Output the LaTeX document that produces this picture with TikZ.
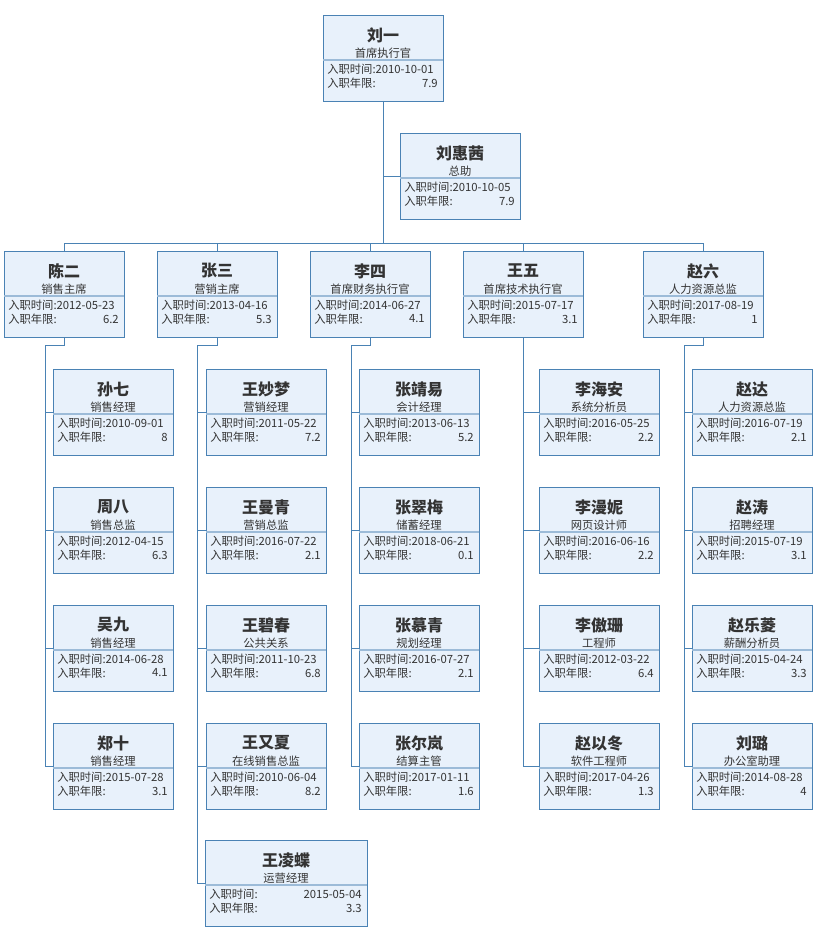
\documentclass[tikz,border=0pt]{standalone}
\usepackage{fontspec}
\setmainfont{Noto Sans CJK SC}
\usetikzlibrary{positioning}

\definecolor{cardfill}{HTML}{E8F1FB}
\definecolor{cardline}{HTML}{4A82B4}
\definecolor{cardsepcol}{HTML}{9CBBD8}
\definecolor{linkcol}{HTML}{4A82B4}
\definecolor{cardtext}{HTML}{333333}

% 卡片: [宽度]{节点名}{左上角}{姓名}{职位}{入职时间}{入职年限}
\newcommand{\orgcard}[7][120]{%
  \node[card, minimum width=#1pt, anchor=north west] (#2) at #3 {};
  \node[cardname] (#2-n) at ([yshift=-20pt]#2.north) {#4};
  \node[cardrole] (#2-r) at ([yshift=-38pt]#2.north) {#5};
  \draw[sepline] ([yshift=-45pt]#2.north west) -- ([yshift=-45pt]#2.north east);
  \node[cardinfo, anchor=west] (#2-d) at ([xshift=4pt,yshift=-54pt]#2.north west) {入职时间:#6};
  \node[cardinfo, anchor=west] (#2-l) at ([xshift=4pt,yshift=-68pt]#2.north west) {入职年限:};
  \node[cardinfo, anchor=east] (#2-y) at ([xshift=-5pt,yshift=-68pt]#2.north east) {#7};
}

\begin{document}
\begin{tikzpicture}[x=1pt,y=-1pt,semithick]
            % 设置样式
            \tikzstyle{card}=[draw=cardline,fill=cardfill,line width=0.9pt,minimum height=86pt,inner sep=0pt,outer sep=0pt]
            \tikzstyle{cardname}=[text=cardtext,inner sep=0pt,font=\bfseries\fontsize{16}{16}\selectfont]
            \tikzstyle{cardrole}=[text=cardtext,inner sep=0pt,font=\fontsize{11.3}{12}\selectfont]
            \tikzstyle{cardinfo}=[text=cardtext,inner sep=0pt,font=\fontsize{11.3}{12}\selectfont]
            \tikzstyle{sepline}=[draw=cardsepcol,line width=1.4pt]
            \tikzstyle{link}=[draw=linkcol,line width=0.9pt]

            \useasboundingbox (0,0) rectangle (816,933);

            % 高层
            \orgcard{liuyi}{(323,15)}{刘一}{首席执行官}{2010-10-01}{7.9}
            \orgcard{liuhuiqian}{(400,133)}{刘惠茜}{总助}{2010-10-05}{7.9}

            % 主席与总监
            \orgcard{chener}{(4,251)}{陈二}{销售主席}{2012-05-23}{6.2}
            \orgcard{zhangsan}{(157,251)}{张三}{营销主席}{2013-04-16}{5.3}
            \orgcard{lisi}{(310,251)}{李四}{首席财务执行官}{2014-06-27}{4.1}
            \orgcard{wangwu}{(463,251)}{王五}{首席技术执行官}{2015-07-17}{3.1}
            \orgcard{zhaoliu}{(643,251)}{赵六}{人力资源总监}{2017-08-19}{1}

            % 陈二的下属
            \orgcard{sunqi}{(53,369)}{孙七}{销售经理}{2010-09-01}{8}
            \orgcard{zhouba}{(53,487)}{周八}{销售总监}{2012-04-15}{6.3}
            \orgcard{wujiu}{(53,605)}{吴九}{销售经理}{2014-06-28}{4.1}
            \orgcard{zhengshi}{(53,723)}{郑十}{销售经理}{2015-07-28}{3.1}

            % 张三的下属
            \orgcard{wangmiaomeng}{(206,369)}{王妙梦}{营销经理}{2011-05-22}{7.2}
            \orgcard{wangmanqing}{(206,487)}{王曼青}{营销总监}{2016-07-22}{2.1}
            \orgcard{wangbichun}{(206,605)}{王碧春}{公共关系}{2011-10-23}{6.8}
            \orgcard{wangyouxia}{(206,723)}{王又夏}{在线销售总监}{2010-06-04}{8.2}
            \orgcard[162]{wanglingdie}{(205,840)}{王凌蝶}{运营经理}{}{3.3}
            \node[cardinfo, anchor=east] (wanglingdie-t) at ([xshift=-5pt,yshift=-54pt]wanglingdie.north east) {2015-05-04};

            % 李四的下属
            \orgcard{zhangjingyi}{(359,369)}{张靖易}{会计经理}{2013-06-13}{5.2}
            \orgcard{zhangcuimei}{(359,487)}{张翠梅}{储蓄经理}{2018-06-21}{0.1}
            \orgcard{zhangmuqing}{(359,605)}{张慕青}{规划经理}{2016-07-27}{2.1}
            \orgcard{zhangerlan}{(359,723)}{张尔岚}{结算主管}{2017-01-11}{1.6}

            % 王五的下属
            \orgcard{lihaian}{(539,369)}{李海安}{系统分析员}{2016-05-25}{2.2}
            \orgcard{limanni}{(539,487)}{李漫妮}{网页设计师}{2016-06-16}{2.2}
            \orgcard{liaoshan}{(539,605)}{李傲珊}{工程师}{2012-03-22}{6.4}
            \orgcard{zhaoyidong}{(539,723)}{赵以冬}{软件工程师}{2017-04-26}{1.3}

            % 赵六的下属
            \orgcard{zhaoda}{(692,369)}{赵达}{人力资源总监}{2016-07-19}{2.1}
            \orgcard{zhaotao}{(692,487)}{赵涛}{招聘经理}{2015-07-19}{3.1}
            \orgcard{zhaolexu}{(692,605)}{赵乐菱}{薪酬分析员}{2015-04-24}{3.3}
            \orgcard{liulu}{(692,723)}{刘璐}{办公室助理}{2014-08-28}{4}

            % 连线
            \coordinate (bus) at (0,243);
            \draw[link] (liuyi.south) -- (liuyi.south |- bus);
            \draw[link] (liuhuiqian.west) -- (liuhuiqian.west -| liuyi.south);
            \draw[link] (chener.north |- bus) -- (zhaoliu.north |- bus);
            \foreach \p in {chener,zhangsan,lisi,wangwu,zhaoliu}
                \draw[link] (\p.north) -- (\p.north |- bus);

            \draw[link] (chener.south) -- ++(0,8) -| ([xshift=-8pt]zhengshi.west) -- (zhengshi.west);
            \foreach \c in {sunqi,zhouba,wujiu}
                \draw[link] ([xshift=-8pt]\c.west) -- (\c.west);

            \draw[link] (zhangsan.south) -- ++(0,8) -| ([xshift=-8pt]wanglingdie.west) -- (wanglingdie.west);
            \foreach \c in {wangmiaomeng,wangmanqing,wangbichun,wangyouxia}
                \draw[link] ([xshift=-9pt]\c.west) -- (\c.west);

            \draw[link] (lisi.south) -- ++(0,8) -| ([xshift=-8pt]zhangerlan.west) -- (zhangerlan.west);
            \foreach \c in {zhangjingyi,zhangcuimei,zhangmuqing}
                \draw[link] ([xshift=-8pt]\c.west) -- (\c.west);

            \draw[link] (wangwu.south) |- (zhaoyidong.west);
            \foreach \c in {lihaian,limanni,liaoshan}
                \draw[link] (wangwu.south |- \c.west) -- (\c.west);

            \draw[link] (zhaoliu.south) -- ++(0,8) -| ([xshift=-8pt]liulu.west) -- (liulu.west);
            \foreach \c in {zhaoda,zhaotao,zhaolexu}
                \draw[link] ([xshift=-8pt]\c.west) -- (\c.west);
        \end{tikzpicture}
\end{document}
